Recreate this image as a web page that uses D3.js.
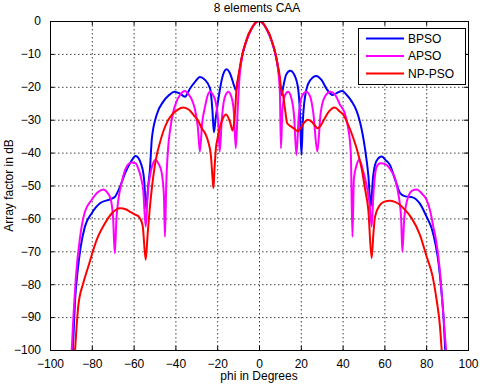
<!DOCTYPE html>
<html>
<head>
<meta charset="utf-8">
<script src="https://cdn.jsdelivr.net/npm/d3@7/dist/d3.min.js"></script>
<style>
  html, body { margin: 0; padding: 0; background: #fff; }
  svg { display: block; font-family: "Liberation Sans", Arial, Helvetica, sans-serif; }
</style>
</head>
<body>
<svg id="chart" width="480" height="384"></svg>
<script>
// ---------------- Data ----------------
const title = "8 elements CAA";
const xLabel = "phi in Degrees";
const yLabel = "Array factor in dB";
const xTicks = [-100, -80, -60, -40, -20, 0, 20, 40, 60, 80, 100];
const yTicks = [0, -10, -20, -30, -40, -50, -60, -70, -80, -90, -100];
const seriesNames = ["BPSO", "APSO", "NP-PSO"];
const seriesColors = ["#0000ff", "#ff00ff", "#ff0000"];

const bpsoPhi = [-89.1, -88.8, -88, -86.9, -85.3, -83.3, -80.1, -76.1, -71.3, -68.9, -66.5, -64.1, -61.5, -59, -56.5, -55, -54, -53, -52.2, -51.3, -49, -45.8, -43, -40.5, -38, -35.4, -33, -30.6, -28.3, -26, -23.4, -22.3, -21.6, -20.8, -19.5, -17.5, -15.5, -13.5, -12, -11, -10.2, -8, -6, -4, -2, 0, 2, 4, 6, 8, 10, 10.8, 11.6, 13, 15, 17, 18.7, 19.6, 20.3, 21, 22.6, 24.5, 27.4, 30, 32.2, 35.2, 37.5, 39.8, 42, 44.4, 46.5, 48.3, 50.7, 52.3, 53.5, 54.5, 55.5, 57, 58.7, 60.5, 62.7, 65, 67.5, 70, 73.5, 77, 80.2, 82.6, 84.5, 86, 87.2, 88.3, 89.1];
const bpsoDb = [-100, -96, -84.8, -76.7, -68.6, -62.5, -58.5, -55.4, -54.2, -53.4, -50.4, -46.3, -43, -41, -43.3, -48, -57, -50, -45.3, -36, -28.6, -24.5, -22.5, -21.5, -22, -23, -20.5, -18.5, -17, -17.8, -20.5, -27, -33.8, -30, -24, -17, -14.7, -16.5, -19.5, -21, -18.5, -10.5, -6, -2.9, -0.8, 0, -0.8, -2.9, -6, -10.5, -18, -22.5, -20, -16.3, -15.1, -16.5, -20.5, -28, -40.7, -30, -21, -18, -16.7, -18, -20.5, -22.5, -21.8, -21.3, -22.5, -24.5, -27, -30.6, -38.7, -46.8, -56.4, -48, -43.8, -41.8, -41.2, -42.2, -43.8, -48, -52.3, -53.3, -53.6, -55.5, -59.5, -63, -68, -74, -81.5, -90, -100];

const apsoPhi = [-89.6, -88.8, -87.6, -85.6, -83.3, -80.1, -77, -74.5, -72.5, -71, -69.8, -69, -68.2, -67.3, -65.5, -64.1, -62.5, -60.9, -59, -57.8, -56.5, -55.4, -54.2, -53.2, -52.2, -50.5, -49.5, -48, -46.6, -45.5, -45, -44.4, -43.4, -42.5, -41, -39.5, -37.8, -35.4, -33.5, -32.2, -30.6, -29.3, -28.3, -27.2, -25.8, -24.5, -23.4, -22, -20.6, -19.6, -18.8, -17.8, -16.5, -14.7, -13, -12, -11.1, -10.2, -9.3, -8, -6, -4, -2, 0, 2, 4, 6, 8, 9.2, 10, 10.5, 11.2, 12.5, 13.9, 15.5, 16.8, 17.9, 19, 20.5, 22.6, 24.5, 26, 27.9, 29.5, 31.5, 34.3, 36.5, 38.8, 41, 42.5, 43.9, 44.7, 45.4, 46.7, 48, 49.9, 51.5, 53, 53.9, 54.8, 56.3, 58, 59.5, 61.5, 63.5, 65.1, 66.8, 68, 68.6, 69.5, 71.4, 73.5, 75.4, 78, 80.2, 82, 83.4, 84.8, 85.8, 86.7, 87.4, 88.3, 89.5];
const apsoDb = [-100, -89.9, -77.7, -65.6, -58, -54.4, -52, -51.2, -52.2, -54, -60, -70.6, -60, -54.4, -48.5, -45.3, -43.5, -43, -43.3, -44.8, -47.5, -51.4, -62.5, -52, -47.3, -43, -42.2, -43.5, -46, -53, -65.6, -50, -38, -33, -27.6, -24.5, -22.5, -21.3, -22.5, -23.8, -27, -32, -39.7, -31, -26, -22.5, -21.5, -22.5, -25, -30, -39.7, -30, -23.5, -21.5, -23.5, -28, -38.7, -27, -17, -10.5, -6, -2.9, -0.8, 0, -0.8, -2.9, -6, -10.5, -15, -22, -38.7, -27, -22.5, -21.5, -23.5, -29, -40.7, -29, -23, -21.5, -23, -28, -39.7, -28, -23, -21.5, -22.5, -25.5, -28, -32, -39.7, -65.6, -48, -43.8, -42.2, -45.8, -50, -56, -62.5, -52, -44.3, -43.2, -43.3, -44, -45.8, -47.8, -53, -60, -70.1, -60, -53.4, -51.5, -51.2, -52.5, -54.4, -58, -62.5, -67, -71.6, -77, -82.8, -90, -100];

const npPhi = [-88, -86.5, -84.1, -81.7, -77.7, -73.7, -70.5, -66.5, -63.5, -61.7, -59.5, -57.8, -56.5, -55.6, -54.2, -53.3, -52.6, -50.6, -49, -47.4, -45.8, -43.8, -41.8, -39, -36.2, -33.5, -31, -29, -27.4, -25.5, -24.3, -23, -22.2, -21.8, -21.3, -20.5, -20, -17.9, -15.8, -13.9, -12.6, -11.5, -10.7, -10, -9, -8, -7, -6, -5.2, -4, -2, 0, 2, 4, 5.2, 6, 7, 8, 9, 10, 10.4, 11.5, 12.5, 13.5, 15.5, 17, 18.5, 20, 21.5, 23.4, 25, 26.6, 28, 29.5, 31.4, 33.5, 36.2, 38.8, 40.2, 42.7, 44.5, 46.7, 49.1, 50.7, 52.3, 53.9, 54.7, 55.5, 57.9, 60, 62.7, 65, 67.5, 70, 73.1, 77, 80.2, 83.1, 85, 86.6, 87.4];
const npDb = [-100, -86.8, -79.7, -74.7, -66.6, -61.5, -58.5, -56.9, -57.3, -58, -58.8, -59.3, -60.5, -62.5, -72.6, -65, -59.5, -47.3, -41, -37, -33.6, -30.5, -28.6, -27, -26.3, -27, -28.8, -30.5, -32.6, -34.5, -36.7, -41, -48, -50.8, -45, -38, -36.2, -30.6, -28.4, -30.6, -33.3, -28, -20, -17.3, -13.5, -10.2, -7.8, -5.8, -4.3, -2.8, -0.7, 0, -0.7, -2.8, -4.3, -5.8, -7.8, -10.2, -13.5, -17.3, -20, -22.5, -27, -31.1, -32.1, -32.8, -33.5, -32.5, -31, -30, -30.5, -31.6, -32.6, -31.8, -29.6, -27.5, -26.3, -27.6, -28.4, -31.6, -34.5, -38.7, -44.8, -50.9, -57.4, -72.1, -65, -59.5, -55.9, -54.9, -54.6, -55, -55.9, -57.5, -60, -65, -71.6, -77.7, -84.8, -92.9, -100];

// ---------------- Layout ----------------
const W = 480, H = 384;
const plot = { left: 50, right: 468, top: 21, bottom: 350 };
const svg = d3.select("#chart");

const x = d3.scaleLinear().domain([-100, 100]).range([plot.left, plot.right]);
const y = d3.scaleLinear().domain([-100, 0]).range([plot.bottom, plot.top]);

svg.append("rect").attr("width", W).attr("height", H).attr("fill", "#fff");
svg.append("rect")
  .attr("x", plot.left).attr("y", plot.top)
  .attr("width", plot.right - plot.left).attr("height", plot.bottom - plot.top)
  .attr("fill", "#fff");

// grid
const grid = svg.append("g").attr("class", "grid");
grid.selectAll("line.gx").data(xTicks.slice(1, -1)).enter().append("line")
  .attr("x1", d => x(d) + 0.5).attr("x2", d => x(d) + 0.5)
  .attr("y1", plot.top).attr("y2", plot.bottom)
  .attr("stroke", "#000").attr("stroke-width", 1).attr("stroke-dasharray", "1.5,2.5").attr("opacity", 0.75);
grid.selectAll("line.gy").data(yTicks.slice(1, -1)).enter().append("line")
  .attr("y1", d => y(d) + 0.5).attr("y2", d => y(d) + 0.5)
  .attr("x1", plot.left).attr("x2", plot.right)
  .attr("stroke", "#000").attr("stroke-width", 1).attr("stroke-dasharray", "1.5,2.5").attr("opacity", 0.75);

// clip
svg.append("defs").append("clipPath").attr("id", "clip")
  .append("rect").attr("x", plot.left).attr("y", plot.top)
  .attr("width", plot.right - plot.left).attr("height", plot.bottom - plot.top);

const line = d3.line().x(d => x(d[0])).y(d => y(d[1])).curve(d3.curveMonotoneX);
const seriesData = [
  d3.zip(bpsoPhi, bpsoDb),
  d3.zip(apsoPhi, apsoDb),
  d3.zip(npPhi, npDb)
];
const lines = svg.append("g").attr("clip-path", "url(#clip)");
seriesData.forEach((s, i) => {
  lines.append("path").datum(s)
    .attr("d", line)
    .attr("fill", "none")
    .attr("stroke", seriesColors[i])
    .attr("stroke-width", 2)
    .attr("stroke-linejoin", "round");
});

// axes (inward ticks on all sides)
const tickLen = 4;
const axB = svg.append("g").attr("transform", `translate(0,${plot.bottom})`)
  .call(d3.axisBottom(x).tickValues(xTicks).tickSize(-tickLen).tickPadding(9));
const axT = svg.append("g").attr("transform", `translate(0,${plot.top})`)
  .call(d3.axisTop(x).tickValues(xTicks).tickSize(-tickLen).tickFormat(""));
const axL = svg.append("g").attr("transform", `translate(${plot.left},0)`)
  .call(d3.axisLeft(y).tickValues(yTicks).tickSize(-tickLen).tickPadding(9));
const axR = svg.append("g").attr("transform", `translate(${plot.right},0)`)
  .call(d3.axisRight(y).tickValues(yTicks).tickSize(-tickLen).tickFormat(""));
[axB, axT, axL, axR].forEach(a => {
  a.select(".domain").remove();
  a.selectAll("line").attr("stroke", "#000");
  a.selectAll("text").attr("font-size", 12).attr("fill", "#000")
    .attr("font-family", "'Liberation Sans', Arial, sans-serif");
});

// box
svg.append("rect")
  .attr("x", plot.left + 0.5).attr("y", plot.top + 0.5)
  .attr("width", plot.right - plot.left).attr("height", plot.bottom - plot.top)
  .attr("fill", "none").attr("stroke", "#000").attr("stroke-width", 1);

// title & labels
svg.append("text").attr("x", (plot.left + plot.right) / 2 - 2).attr("y", 12)
  .attr("text-anchor", "middle").attr("font-size", 12).text(title);
svg.append("text").attr("x", (plot.left + plot.right) / 2).attr("y", 380)
  .attr("text-anchor", "middle").attr("font-size", 12).text(xLabel);
svg.append("text").attr("transform", `translate(13,${(plot.top + plot.bottom) / 2}) rotate(-90)`)
  .attr("text-anchor", "middle").attr("font-size", 12).text(yLabel);

// legend
const lg = svg.append("g");
lg.append("rect").attr("x", 358.5).attr("y", 28.5).attr("width", 107).attr("height", 56)
  .attr("fill", "#fff").attr("stroke", "#000").attr("stroke-width", 1);
seriesNames.forEach((n, i) => {
  const cy = 38.5 + i * 17.5;
  lg.append("line").attr("x1", 366).attr("x2", 404).attr("y1", cy).attr("y2", cy)
    .attr("stroke", seriesColors[i]).attr("stroke-width", 2);
  lg.append("text").attr("x", 408).attr("y", cy + 4.3).attr("font-size", 12).text(n);
});
</script>
</body>
</html>
